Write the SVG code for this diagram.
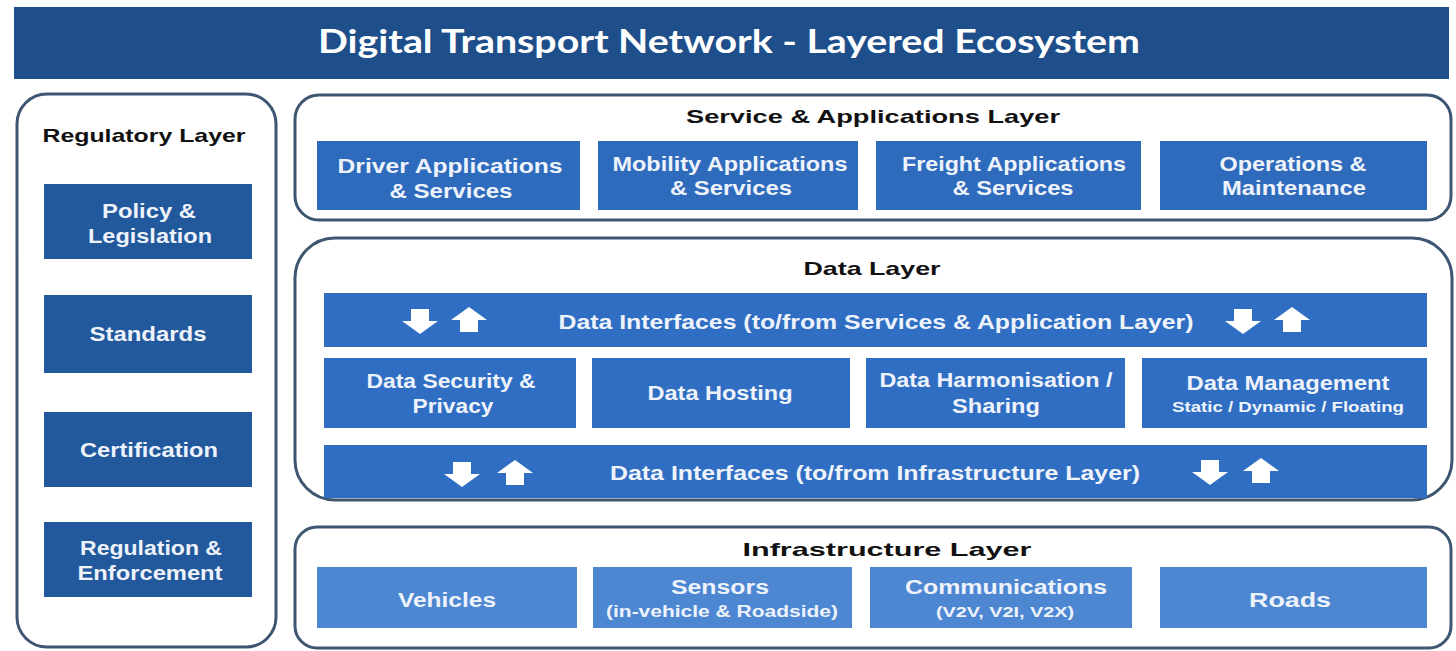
<svg xmlns="http://www.w3.org/2000/svg" width="1456" height="651" viewBox="0 0 1456 651">
<defs>
<style>
.panel{fill:#ffffff;stroke:#3e5672;stroke-width:3}
.reg{fill:#22589c}
.svc{fill:#2e6bbd}
.dat{fill:#2f6ec2}
.inf{fill:#4d87d2}
.lbl{font-family:"Liberation Sans",Arial,sans-serif;font-weight:bold;fill:#111111;text-anchor:middle;font-size:19px}
.bt{font-family:"Liberation Sans",Arial,sans-serif;font-weight:bold;fill:#eef3fb;text-anchor:middle;font-size:20px}
.sub{font-family:"Liberation Sans",Arial,sans-serif;font-weight:bold;fill:#eef3fb;text-anchor:middle}
.arr{fill:#ffffff}
</style>
<path id="dn" d="M-9,-12 H9 V0 H18 L0,13 L-18,0 H-9 Z"/>
<path id="up" d="M-9,12 H9 V0 H18 L0,-13 L-18,0 H-9 Z"/>
</defs>
<rect width="1456" height="651" fill="#ffffff"/>
<g id="title">
<rect x="14" y="7" width="1435" height="72" fill="#1f4f8a"/>
<text x="729" y="53" font-family="Lato,'Liberation Sans',sans-serif" font-weight="bold" font-size="32" fill="#ffffff" text-anchor="middle" textLength="822" lengthAdjust="spacingAndGlyphs">Digital Transport Network - Layered Ecosystem</text>
</g>
<g id="regulatory">
<rect class="panel" x="17" y="94" width="259" height="553" rx="30"/>
<text class="lbl" x="144" y="142" textLength="203" lengthAdjust="spacingAndGlyphs">Regulatory Layer</text>
<g id="policy"><rect class="reg" x="44" y="184" width="208" height="75"/><text class="bt" x="149" y="218" textLength="94" lengthAdjust="spacingAndGlyphs">Policy &amp;</text><text class="bt" x="150" y="243" textLength="124" lengthAdjust="spacingAndGlyphs">Legislation</text></g>
<g id="standards"><rect class="reg" x="44" y="295" width="208" height="78"/><text class="bt" x="148" y="341" textLength="117" lengthAdjust="spacingAndGlyphs">Standards</text></g>
<g id="certification"><rect class="reg" x="44" y="412" width="208" height="75"/><text class="bt" x="149" y="457" textLength="138" lengthAdjust="spacingAndGlyphs">Certification</text></g>
<g id="enforcement"><rect class="reg" x="44" y="522" width="208" height="75"/><text class="bt" x="151" y="555" textLength="142" lengthAdjust="spacingAndGlyphs">Regulation &amp;</text><text class="bt" x="150" y="580" textLength="145" lengthAdjust="spacingAndGlyphs">Enforcement</text></g>
</g>
<g id="service">
<rect class="panel" x="295" y="95" width="1156" height="125" rx="24"/>
<text class="lbl" x="873" y="123" textLength="374" lengthAdjust="spacingAndGlyphs">Service &amp; Applications Layer</text>
<g id="driver"><rect class="svc" x="317" y="141" width="263" height="69"/><text class="bt" x="450" y="173" textLength="225" lengthAdjust="spacingAndGlyphs">Driver Applications</text><text class="bt" x="451" y="198" textLength="123" lengthAdjust="spacingAndGlyphs">&amp; Services</text></g>
<g id="mobility"><rect class="svc" x="598" y="141" width="260" height="69"/><text class="bt" x="730" y="171" textLength="235" lengthAdjust="spacingAndGlyphs">Mobility Applications</text><text class="bt" x="731" y="195" textLength="122" lengthAdjust="spacingAndGlyphs">&amp; Services</text></g>
<g id="freight"><rect class="svc" x="876" y="141" width="265" height="69"/><text class="bt" x="1014" y="171" textLength="224" lengthAdjust="spacingAndGlyphs">Freight Applications</text><text class="bt" x="1013" y="195" textLength="121" lengthAdjust="spacingAndGlyphs">&amp; Services</text></g>
<g id="operations"><rect class="svc" x="1160" y="141" width="267" height="69"/><text class="bt" x="1293" y="171" textLength="147" lengthAdjust="spacingAndGlyphs">Operations &amp;</text><text class="bt" x="1294" y="195" textLength="144" lengthAdjust="spacingAndGlyphs">Maintenance</text></g>
</g>
<g id="data">
<rect class="panel" x="295" y="238" width="1157" height="262" rx="40"/>
<text class="lbl" x="872" y="275" textLength="137" lengthAdjust="spacingAndGlyphs">Data Layer</text>
<g id="iface-top"><rect class="dat" x="324" y="293" width="1103" height="54"/><text class="bt" x="876" y="329" textLength="635" lengthAdjust="spacingAndGlyphs">Data Interfaces  (to/from  Services  &amp;  Application  Layer)</text></g>
<g id="security"><rect class="dat" x="324" y="358" width="252" height="70"/><text class="bt" x="451" y="388" textLength="169" lengthAdjust="spacingAndGlyphs">Data Security &amp;</text><text class="bt" x="453" y="413" textLength="81" lengthAdjust="spacingAndGlyphs">Privacy</text></g>
<g id="hosting"><rect class="dat" x="592" y="358" width="258" height="70"/><text class="bt" x="720" y="400" textLength="145" lengthAdjust="spacingAndGlyphs">Data Hosting</text></g>
<g id="harmonisation"><rect class="dat" x="866" y="358" width="259" height="70"/><text class="bt" x="996" y="387" textLength="233" lengthAdjust="spacingAndGlyphs">Data Harmonisation /</text><text class="bt" x="996" y="413" textLength="88" lengthAdjust="spacingAndGlyphs">Sharing</text></g>
<g id="management"><rect class="dat" x="1142" y="358" width="285" height="70"/><text class="bt" x="1288" y="390" textLength="203" lengthAdjust="spacingAndGlyphs">Data Management</text><text class="sub" x="1288" y="412" font-size="14" textLength="232" lengthAdjust="spacingAndGlyphs">Static / Dynamic / Floating</text></g>
<g id="iface-bottom"><rect class="dat" x="324" y="445" width="1103" height="53"/><text class="bt" x="875" y="480" textLength="530" lengthAdjust="spacingAndGlyphs">Data Interfaces  (to/from  Infrastructure  Layer)</text></g>
</g>
<g id="connectors">
<use href="#dn" class="arr" x="420" y="321"/>
<use href="#up" class="arr" x="469" y="320"/>
<use href="#dn" class="arr" x="1243" y="321"/>
<use href="#up" class="arr" x="1292" y="320"/>
<use href="#dn" class="arr" x="462" y="474"/>
<use href="#up" class="arr" x="515" y="473"/>
<use href="#dn" class="arr" x="1210" y="472"/>
<use href="#up" class="arr" x="1261" y="471"/>
</g>
<g id="infrastructure">
<rect class="panel" x="295" y="527" width="1156" height="121" rx="22"/>
<text class="lbl" x="887" y="556" textLength="289" lengthAdjust="spacingAndGlyphs">Infrastructure Layer</text>
<g id="vehicles"><rect class="inf" x="317" y="567" width="260" height="61"/><text class="bt" x="447" y="607" textLength="98" lengthAdjust="spacingAndGlyphs">Vehicles</text></g>
<g id="sensors"><rect class="inf" x="593" y="567" width="259" height="61"/><text class="bt" x="720" y="594" textLength="98" lengthAdjust="spacingAndGlyphs">Sensors</text><text class="sub" x="722" y="617" font-size="16" textLength="232" lengthAdjust="spacingAndGlyphs">(in-vehicle &amp; Roadside)</text></g>
<g id="communications"><rect class="inf" x="870" y="567" width="262" height="61"/><text class="bt" x="1006" y="594" textLength="202" lengthAdjust="spacingAndGlyphs">Communications</text><text class="sub" x="1005" y="617" font-size="15" textLength="138" lengthAdjust="spacingAndGlyphs">(V2V, V2I, V2X)</text></g>
<g id="roads"><rect class="inf" x="1160" y="567" width="267" height="61"/><text class="bt" x="1290" y="607" textLength="82" lengthAdjust="spacingAndGlyphs">Roads</text></g>
</g>
</svg>
